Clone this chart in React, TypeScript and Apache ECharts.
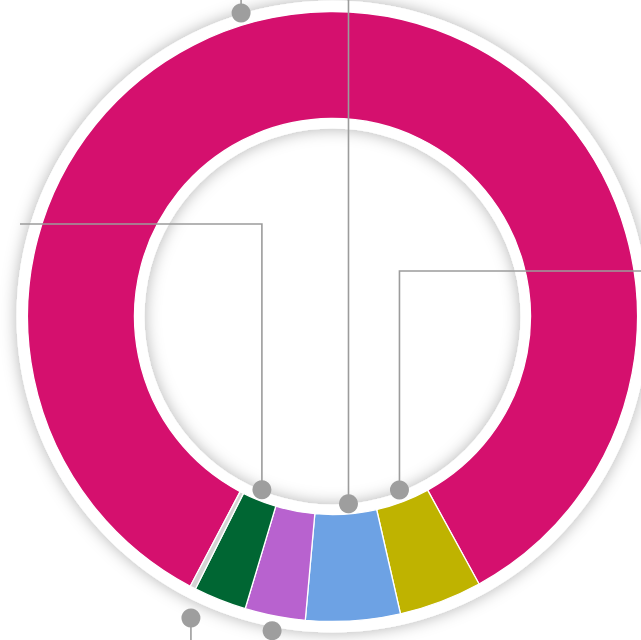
import React, { useEffect, useRef } from "react";
import * as echarts from "echarts";

// Slice data (clockwise from the lower-left start angle)
const categories = ["A", "E", "D", "C", "B", "F"];
const values = [84.3, 4.4, 5.0, 3.2, 2.8, 0.3];
const colors = ["#D5106E", "#BFB300", "#6DA2E4", "#B862CF", "#006633", "#D4D4D4"];

// Leader-line styling per slice: dot radius, angle shift (deg), vertical target y, optional horizontal target x
const dotRadius = [317, 186, 188, 320, 187, 333];
const dotShift = [16.3, 0.3, 1.0, 0, -0.5, 2.1];
const routeY = [-10, 271, -10, 660, 224, 660];
const routeX: (number | null)[] = [null, 660, null, null, 20, null];

const CX = 332.5;
const CY = 316.5;
const R_IN = 198;
const R_OUT = 305;
const START = 242.2;

export default function App() {
  const ref = useRef<HTMLDivElement>(null);
  useEffect(() => {
    if (!ref.current) return;
    const chart = echarts.init(ref.current, undefined, { renderer: "svg" });
    const total = values.reduce((a, b) => a + b, 0);
    let cum = 0;
    const lines: any[] = [];
    const dots: any[] = [];
    values.forEach((v, i) => {
      const span = (v / total) * 360;
      const a0 = START - (cum / total) * 360;
      const mid = a0 - span / 2 + dotShift[i];
      cum += v;
      const rad = (mid * Math.PI) / 180;
      const x = CX + dotRadius[i] * Math.cos(rad);
      const y = CY - dotRadius[i] * Math.sin(rad);
      const pts: number[][] = [[x, y], [x, routeY[i]]];
      if (routeX[i] !== null) pts.push([routeX[i] as number, routeY[i]]);
      lines.push({
        type: "polyline",
        shape: { points: pts },
        style: { stroke: "#9C9C9C", lineWidth: 1.6, fill: null },
        z: 10,
      });
      dots.push({
        type: "circle",
        shape: { cx: x, cy: y, r: 9.5 },
        style: { fill: "#9E9E9E" },
        z: 11,
      });
    });

    chart.setOption({
      animation: false,
      backgroundColor: "#ffffff",
      series: [
        {
          type: "pie",
          silent: true,
          center: [CX, CY],
          radius: [188, 316],
          label: { show: false },
          labelLine: { show: false },
          data: [
            {
              value: 1,
              itemStyle: {
                color: "#ffffff",
                shadowBlur: 16,
                shadowColor: "rgba(0,0,0,0.3)",
              },
            },
          ],
          z: 1,
        },
        {
          type: "pie",
          center: [CX, CY],
          radius: [R_IN, R_OUT],
          startAngle: START,
          clockwise: true,
          label: { show: false },
          labelLine: { show: false },
          itemStyle: { borderColor: "#ffffff", borderWidth: 1.3 },
          data: categories.map((c, i) => ({
            name: c,
            value: values[i],
            itemStyle: { color: colors[i] },
          })),
          z: 2,
        },
      ],
      graphic: [...lines, ...dots],
    });
    return () => chart.dispose();
  }, []);
  return (
    <div
      ref={ref}
      style={{ position: "fixed", left: 0, top: 0, width: 641, height: 640, background: "#fff" }}
    />
  );
}
